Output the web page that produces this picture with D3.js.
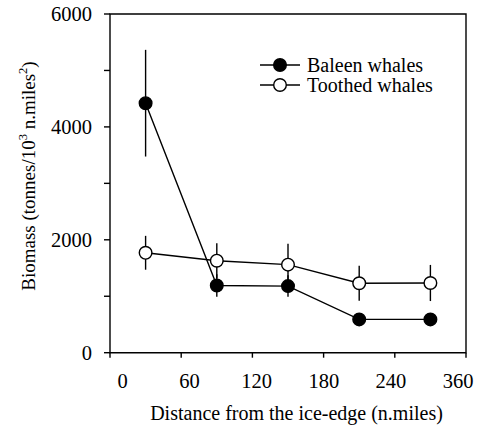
<!DOCTYPE html>
<html><head><meta charset="utf-8">
<script src="https://cdn.jsdelivr.net/npm/d3@7"></script>
<style>body{margin:0;background:#fff}svg{display:block}text{font-family:"Liberation Serif","Times New Roman",serif;fill:#000}</style>
</head><body><svg id="c" width="481" height="426"></svg>
<script>
const distances = [30, 90, 150, 210, 270];
const baleen = [4420, 1190, 1180, 590, 590];
const baleenErr = [945, 200, 190, 0, 0];
const toothed = [1770, 1630, 1560, 1230, 1235];
const toothedErr = [300, 310, 370, 310, 320];
const xTickVals = [0, 60, 120, 180, 240, 300];
const xTickLabels = ["0", "60", "120", "180", "240", "360"];
const yMajor = [0, 2000, 4000, 6000];
const yMinor = [1000, 3000, 5000];
const seriesNames = ["Baleen whales", "Toothed whales"];

const svg = d3.select("#c");
const L = 110, R = 466, T = 14, B = 352.7;
const x = d3.scaleLinear().domain([0, 300]).range([L, R]);
const y = d3.scaleLinear().domain([0, 6000]).range([B, T]);
const xLab = d3.scalePoint().domain(xTickLabels).range([122.5, 458]);
const fs = 20, tfs = 20.5;

// frame
const frame = svg.append("g").attr("stroke", "#000").attr("stroke-width", 1.4).attr("fill", "none");
frame.append("path").attr("d", `M${L},${T}H${R}V${B}H${L}Z`);

// y ticks
svg.append("g").selectAll("line").data(yMajor.concat(yMinor)).join("line")
  .attr("x1", L - 6).attr("x2", L).attr("y1", d => y(d)).attr("y2", d => y(d))
  .attr("stroke", "#000").attr("stroke-width", 1.4);
svg.append("g").selectAll("text").data(yMajor).join("text")
  .attr("x", L - 18).attr("y", d => y(d)).attr("dy", "0.35em")
  .attr("text-anchor", "end").attr("font-size", tfs).text(d => d);

// x ticks
svg.append("g").selectAll("line").data(xTickVals).join("line")
  .attr("x1", d => x(d)).attr("x2", d => x(d)).attr("y1", B).attr("y2", B + 5)
  .attr("stroke", "#000").attr("stroke-width", 1.4);
svg.append("g").selectAll("text").data(xTickLabels).join("text")
  .attr("x", d => xLab(d)).attr("y", 388)
  .attr("text-anchor", "middle").attr("font-size", tfs).text(d => d);

// axis titles
svg.append("text").attr("x", 296.5).attr("y", 419.5).attr("text-anchor", "middle")
  .attr("font-size", fs).text("Distance from the ice-edge (n.miles)");
const yt = svg.append("text").attr("transform", `translate(35,176) rotate(-90)`)
  .attr("text-anchor", "middle").attr("font-size", 19);
yt.append("tspan").text("Biomass (tonnes/10");
yt.append("tspan").attr("font-size", 12.5).attr("dy", -8).text("3");
yt.append("tspan").attr("dy", 8).text(" n.miles");
yt.append("tspan").attr("font-size", 12.5).attr("dy", -8).text("2");
yt.append("tspan").attr("dy", 8).text(")");

const line = d3.line().x((d, i) => x(distances[i])).y(d => y(d));
function drawSeries(vals, errs, fill) {
  const g = svg.append("g");
  g.append("path").attr("d", line(vals)).attr("fill", "none").attr("stroke", "#000").attr("stroke-width", 1.4);
  g.selectAll("line").data(vals).join("line")
    .attr("x1", (d, i) => x(distances[i])).attr("x2", (d, i) => x(distances[i]))
    .attr("y1", (d, i) => y(d - errs[i])).attr("y2", (d, i) => y(d + errs[i]))
    .attr("stroke", "#000").attr("stroke-width", 1.4);
  g.selectAll("circle").data(vals).join("circle")
    .attr("cx", (d, i) => x(distances[i])).attr("cy", d => y(d)).attr("r", 6.3)
    .attr("fill", fill).attr("stroke", "#000").attr("stroke-width", 1.4);
}
drawSeries(toothed, toothedErr, "#fff");
drawSeries(baleen, baleenErr, "#000");

// legend
const leg = svg.append("g");
[["#000", 65], ["#fff", 85]].forEach((s, i) => {
  leg.append("line").attr("x1", 260).attr("x2", 300).attr("y1", s[1]).attr("y2", s[1]).attr("stroke", "#000").attr("stroke-width", 1.4);
  leg.append("circle").attr("cx", 280).attr("cy", s[1]).attr("r", 6.3).attr("fill", s[0]).attr("stroke", "#000").attr("stroke-width", 1.4);
  leg.append("text").attr("x", 307).attr("y", s[1]).attr("dy", "0.33em").attr("font-size", fs).text(seriesNames[i]);
});
</script></body></html>
